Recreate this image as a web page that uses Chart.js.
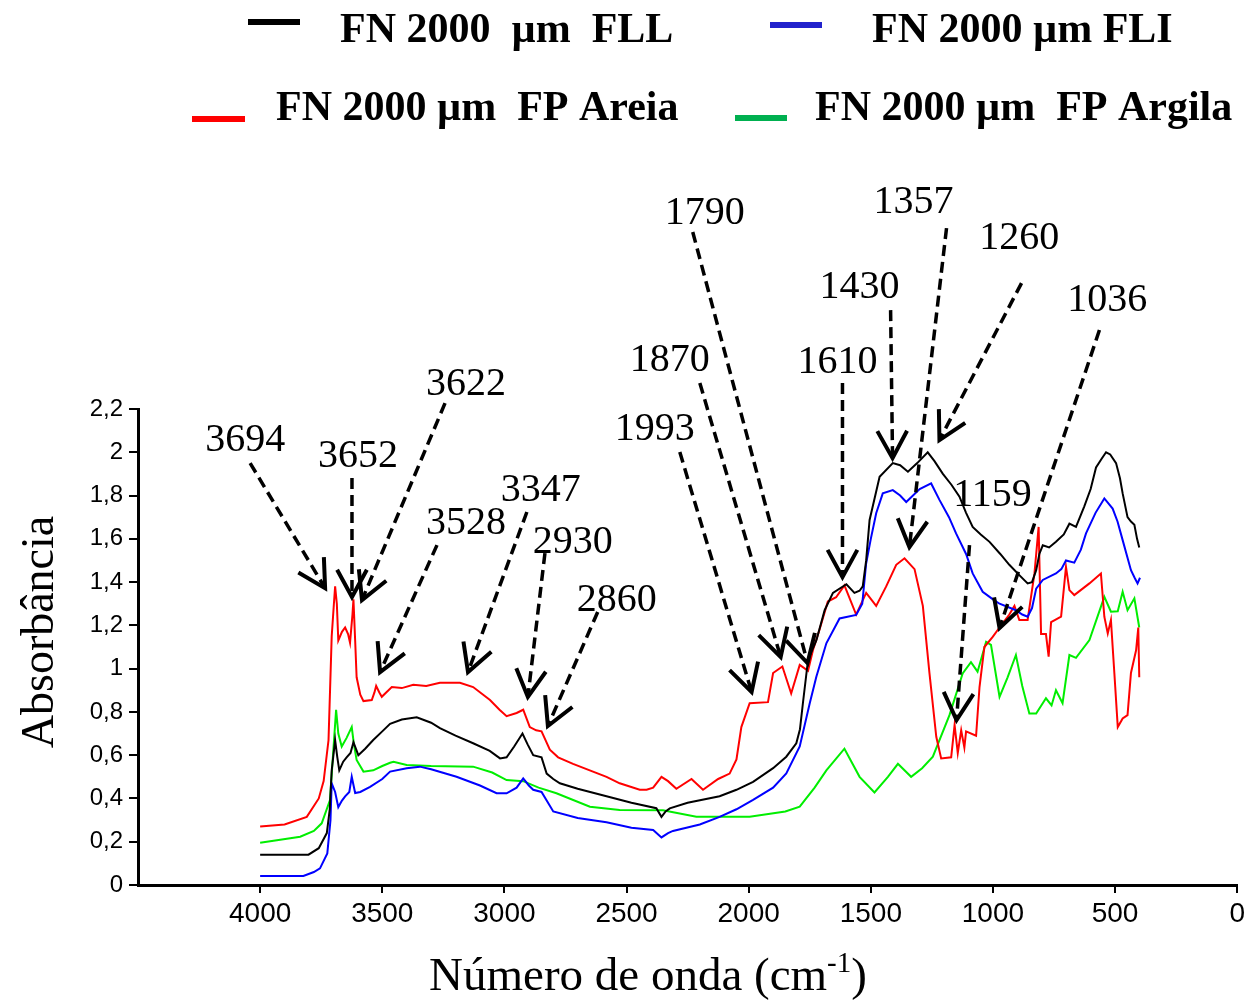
<!DOCTYPE html>
<html>
<head>
<meta charset="utf-8">
<script src="https://cdn.jsdelivr.net/npm/chart.js@4.4.1/dist/chart.umd.min.js"></script>
<style>
  html, body { margin: 0; padding: 0; background: #fff; }
  #wrap { width: 1249px; height: 1002px; position: relative; }
</style>
</head>
<body>
<div id="wrap"><canvas id="ftir"></canvas></div>
<script>
// ── Spectra: [wavenumber cm-1, absorbance] ─────────────────────────────────
const FLL = [
  [4000,0.14],[3850,0.14],[3802,0.14],[3760,0.17],[3727,0.24],[3715,0.35],[3707,0.53],[3693,0.67],
  [3684,0.59],[3676,0.53],[3660,0.57],[3646,0.59],[3630,0.61],[3618,0.66],[3598,0.60],[3570,0.63],
  [3537,0.67],[3500,0.71],[3468,0.745],[3420,0.765],[3359,0.775],[3300,0.75],[3264,0.725],[3200,0.69],
  [3128,0.655],[3060,0.62],[3018,0.585],[2991,0.59],[2960,0.64],[2926,0.70],[2905,0.65],[2882,0.60],
  [2848,0.59],[2827,0.515],[2800,0.49],[2773,0.47],[2700,0.445],[2582,0.41],[2480,0.38],[2378,0.355],
  [2357,0.315],[2340,0.34],[2323,0.354],[2250,0.38],[2119,0.41],[2050,0.44],[1982,0.477],[1900,0.54],
  [1846,0.593],[1805,0.655],[1790,0.72],[1778,0.84],[1757,1.04],[1723,1.13],[1689,1.27],[1655,1.35],
  [1600,1.39],[1567,1.35],[1546,1.36],[1533,1.38],[1519,1.50],[1505,1.687],[1464,1.887],[1410,1.95],
  [1380,1.94],[1348,1.91],[1310,1.95],[1267,2.00],[1240,1.96],[1205,1.90],[1170,1.85],[1137,1.795],
  [1110,1.72],[1083,1.655],[1050,1.62],[1014,1.586],[970,1.53],[933,1.48],[890,1.43],[858,1.394],
  [840,1.40],[823,1.455],[810,1.53],[796,1.57],[770,1.56],[742,1.586],[710,1.62],[687,1.67],
  [660,1.655],[626,1.75],[600,1.83],[578,1.93],[555,1.97],[537,2.00],[520,1.99],[496,1.95],
  [480,1.88],[469,1.81],[449,1.70],[435,1.68],[421,1.665],[410,1.60],[401,1.56]
];
const FLI = [
  [4000,0.042],[3823,0.042],[3780,0.06],[3755,0.077],[3725,0.146],[3712,0.30],[3707,0.47],[3693,0.43],
  [3680,0.36],[3665,0.39],[3652,0.41],[3635,0.43],[3625,0.50],[3611,0.425],[3590,0.43],[3550,0.454],
  [3500,0.49],[3468,0.524],[3400,0.54],[3346,0.547],[3300,0.535],[3196,0.50],[3100,0.46],[3032,0.424],
  [2991,0.424],[2950,0.45],[2923,0.493],[2900,0.46],[2882,0.44],[2848,0.43],[2800,0.34],[2700,0.31],
  [2582,0.29],[2480,0.265],[2391,0.254],[2357,0.22],[2330,0.24],[2310,0.25],[2200,0.28],[2119,0.315],
  [2050,0.35],[1982,0.393],[1900,0.45],[1846,0.516],[1791,0.64],[1750,0.84],[1723,0.963],[1682,1.117],
  [1628,1.232],[1560,1.248],[1535,1.30],[1519,1.487],[1500,1.60],[1478,1.718],[1451,1.81],[1410,1.825],
  [1380,1.80],[1355,1.77],[1300,1.83],[1253,1.856],[1219,1.78],[1180,1.70],[1151,1.625],[1110,1.53],
  [1083,1.44],[1042,1.355],[1000,1.32],[973,1.30],[906,1.27],[880,1.25],[858,1.24],[840,1.28],
  [823,1.37],[796,1.41],[742,1.44],[720,1.46],[701,1.50],[667,1.49],[640,1.55],[619,1.625],
  [580,1.72],[544,1.787],[510,1.74],[490,1.68],[469,1.594],[435,1.455],[420,1.42],[408,1.394],[398,1.42]
];
const FP_AREIA = [
  [4000,0.27],[3900,0.28],[3809,0.315],[3760,0.40],[3740,0.48],[3720,0.67],[3707,1.15],[3698,1.30],
  [3693,1.38],[3686,1.30],[3680,1.13],[3665,1.17],[3652,1.19],[3640,1.16],[3632,1.12],[3622,1.25],
  [3618,1.32],[3611,1.13],[3605,0.96],[3590,0.88],[3577,0.85],[3543,0.855],[3532,0.89],[3525,0.92],
  [3512,0.89],[3502,0.87],[3461,0.915],[3420,0.91],[3373,0.925],[3320,0.92],[3264,0.935],[3182,0.935],
  [3128,0.915],[3059,0.855],[3020,0.81],[2991,0.78],[2950,0.795],[2923,0.81],[2896,0.73],[2870,0.715],
  [2848,0.71],[2814,0.625],[2780,0.59],[2719,0.56],[2582,0.50],[2528,0.47],[2446,0.44],[2418,0.44],
  [2391,0.45],[2357,0.50],[2330,0.48],[2296,0.445],[2234,0.49],[2187,0.44],[2125,0.49],[2078,0.515],
  [2050,0.58],[2030,0.73],[1996,0.84],[1921,0.845],[1900,0.98],[1862,1.01],[1826,0.885],[1791,1.017],
  [1757,0.99],[1737,1.085],[1710,1.18],[1676,1.31],[1642,1.33],[1608,1.385],[1560,1.25],[1519,1.35],
  [1478,1.29],[1437,1.38],[1396,1.48],[1362,1.51],[1321,1.46],[1287,1.29],[1260,0.98],[1232,0.685],
  [1212,0.585],[1171,0.59],[1157,0.74],[1144,0.61],[1130,0.715],[1117,0.635],[1110,0.71],[1069,0.69],
  [1055,0.915],[1035,1.10],[1001,1.147],[973,1.19],[933,1.25],[912,1.29],[892,1.225],[858,1.225],
  [830,1.44],[813,1.655],[803,1.16],[783,1.16],[772,1.055],[762,1.215],[721,1.24],[701,1.47],
  [687,1.363],[667,1.34],[605,1.394],[558,1.44],[544,1.24],[530,1.163],[517,1.225],[503,0.98],
  [489,0.73],[469,0.77],[449,0.785],[435,0.98],[414,1.085],[405,1.19],[401,0.96]
];
const FP_ARGILA = [
  [4000,0.195],[3836,0.223],[3780,0.25],[3748,0.285],[3714,0.393],[3703,0.578],[3689,0.81],[3680,0.70],
  [3666,0.64],[3646,0.68],[3625,0.73],[3616,0.65],[3605,0.578],[3577,0.524],[3537,0.53],[3500,0.55],
  [3468,0.565],[3454,0.57],[3400,0.555],[3300,0.55],[3128,0.547],[3050,0.52],[2991,0.485],[2923,0.48],
  [2860,0.45],[2787,0.424],[2650,0.362],[2528,0.347],[2351,0.345],[2214,0.316],[1996,0.316],[1850,0.34],
  [1791,0.362],[1730,0.45],[1682,0.53],[1608,0.63],[1546,0.50],[1485,0.428],[1430,0.50],[1389,0.56],
  [1335,0.50],[1290,0.54],[1246,0.593],[1178,0.785],[1124,0.978],[1090,1.03],[1063,0.986],[1028,1.124],
  [1008,1.11],[973,0.87],[940,0.96],[906,1.063],[880,0.92],[851,0.793],[823,0.793],[783,0.863],
  [760,0.83],[742,0.90],[715,0.84],[687,1.063],[660,1.05],[605,1.132],[544,1.332],[517,1.263],
  [489,1.265],[469,1.355],[449,1.27],[421,1.325],[401,1.19]
];

const SERIES_LABELS = ['FN 2000  µm  FLL', 'FN 2000 µm FLI', 'FN 2000 µm  FP Areia', 'FN 2000 µm  FP Argila'];
const X_TICKS = [4000, 3500, 3000, 2500, 2000, 1500, 1000, 500, 0];
const Y_TICKS = [0, 0.2, 0.4, 0.6, 0.8, 1, 1.2, 1.4, 1.6, 1.8, 2, 2.2];

// peak annotations: label, label centre, dashed line start, arrow tip (wn, abs)
const PEAKS = ['3694','3652','3622','3528','3347','2930','2860','1993','1870','1790','1610','1430','1357','1260','1036','1159'];
const PEAK_TEXT = [[4061,2.056],[3599,1.982],[3157,2.311],[3157,1.673],[2851,1.825],[2720,1.585],[2540,1.317],[2384,2.103],
                   [2323,2.426],[2180,3.105],[1636,2.417],[1546,2.763],[1325,3.156],[892,2.99],[532,2.703],[1002,1.802]];
const PEAK_FROM = [[4041,1.95],[3624,1.881],[3243,2.227],[3276,1.571],[2908,1.724],[2834,1.534],[2618,1.262],[2282,2.001],
                   [2200,2.32],[2229,3.018],[1616,2.32],[1419,2.657],[1190,3.036],[883,2.782],[564,2.565],[1096,1.571]];
const PEAK_TIP  = [[3734,1.372],[3624,1.331],[3583,1.317],[3509,0.984],[3149,0.984],[2904,0.869],[2822,0.735],[1988,0.892],
                   [1869,1.054],[1759,1.026],[1616,1.423],[1411,1.973],[1342,1.562],[1219,2.056],[973,1.188],[1149,0.762]];

const LINE_COLORS   = ['#000000', '#0000ff', '#ff0000', '#00ee00'];
const LEGEND_COLORS = ['#000000', '#2222cc', '#ff0000', '#00b050'];

const SERIF = "'Liberation Serif', 'Times New Roman', serif";
const SANS  = "'Liberation Sans', Arial, sans-serif";

function fmtTick(v) {
  return String(Math.round(v * 10) / 10).replace('.', ',');
}

// ── Arrow helper: dashed shaft + open chevron head ─────────────────────────
function drawArrow(ctx, x1, y1, x2, y2) {
  ctx.lineWidth = 3.5;
  ctx.setLineDash([11, 6]);
  ctx.beginPath();
  ctx.moveTo(x1, y1);
  ctx.lineTo(x2, y2);
  ctx.stroke();
  ctx.setLineDash([]);
  const a = Math.atan2(y2 - y1, x2 - x1);
  const len = 31, spread = 0.5;
  ctx.lineWidth = 4;
  ctx.beginPath();
  ctx.moveTo(x2 - len * Math.cos(a - spread), y2 - len * Math.sin(a - spread));
  ctx.lineTo(x2, y2);
  ctx.lineTo(x2 - len * Math.cos(a + spread), y2 - len * Math.sin(a + spread));
  ctx.stroke();
}

// ── Decorations: peak arrows, 2x2 legend, axis titles ─────────────────────
const decorPlugin = {
  id: 'decor',
  afterDraw(chart) {
    const { ctx, scales: { x, y } } = chart;
    ctx.save();
    ctx.strokeStyle = '#000';
    ctx.fillStyle = '#000';
    ctx.lineCap = 'butt';
    ctx.lineJoin = 'miter';

    PEAKS.forEach((lbl, i) => {
      drawArrow(ctx,
        x.getPixelForValue(PEAK_FROM[i][0]), y.getPixelForValue(PEAK_FROM[i][1]),
        x.getPixelForValue(PEAK_TIP[i][0]),  y.getPixelForValue(PEAK_TIP[i][1]));
    });
    ctx.font = `40px ${SERIF}`;
    ctx.textAlign = 'center';
    ctx.textBaseline = 'middle';
    PEAKS.forEach((lbl, i) => {
      ctx.fillText(lbl, x.getPixelForValue(PEAK_TEXT[i][0]), y.getPixelForValue(PEAK_TEXT[i][1]));
    });

    // legend (two rows)
    const legendSlots = [
      { x0: 248, x1: 300, ly: 22,  tx: 340, ty: 42 },
      { x0: 770, x1: 822, ly: 25,  tx: 872, ty: 42 },
      { x0: 192, x1: 245, ly: 119, tx: 276, ty: 120 },
      { x0: 735, x1: 787, ly: 118, tx: 815, ty: 120 }
    ];
    ctx.font = `bold 42px ${SERIF}`;
    ctx.textAlign = 'left';
    ctx.textBaseline = 'alphabetic';
    chart.data.datasets.forEach((ds, i) => {
      const s = legendSlots[i];
      ctx.strokeStyle = LEGEND_COLORS[i];
      ctx.lineWidth = 6;
      ctx.beginPath();
      ctx.moveTo(s.x0, s.ly);
      ctx.lineTo(s.x1, s.ly);
      ctx.stroke();
      ctx.fillStyle = '#000';
      ctx.fillText(ds.label, s.tx, s.ty);
    });

    // y title
    ctx.save();
    ctx.translate(53, 632);
    ctx.rotate(-Math.PI / 2);
    ctx.font = `46px ${SERIF}`;
    ctx.textAlign = 'center';
    ctx.fillText('Absorbância', 0, 0);
    ctx.restore();

    // x title with superscript
    const main = 'Número de onda (cm', sup = '-1', tail = ')';
    ctx.font = `47px ${SERIF}`;
    const w1 = ctx.measureText(main).width, w3 = ctx.measureText(tail).width;
    ctx.font = `29px ${SERIF}`;
    const w2 = ctx.measureText(sup).width;
    let px = 648 - (w1 + w2 + w3) / 2;
    const base = 990;
    ctx.textAlign = 'left';
    ctx.font = `47px ${SERIF}`;
    ctx.fillText(main, px, base);
    px += w1;
    ctx.font = `29px ${SERIF}`;
    ctx.fillText(sup, px, base - 18);
    px += w2;
    ctx.font = `47px ${SERIF}`;
    ctx.fillText(tail, px, base);
    ctx.restore();
  }
};

const toPoints = arr => arr.map(([wn, a]) => ({ x: wn, y: a }));

new Chart(document.getElementById('ftir'), {
  type: 'line',
  data: {
    datasets: [FLL, FLI, FP_AREIA, FP_ARGILA].map((s, i) => ({
      label: SERIES_LABELS[i],
      data: toPoints(s),
      borderColor: LINE_COLORS[i],
      borderWidth: 2,
      pointRadius: 0,
      tension: 0,
      fill: false
    }))
  },
  options: {
    animation: false,
    responsive: true,
    maintainAspectRatio: false,
    layout: { padding: { top: 409, right: 11, left: 0, bottom: 0 } },
    plugins: { legend: { display: false }, tooltip: { enabled: false } },
    scales: {
      x: {
        type: 'linear',
        reverse: true,
        min: 0,
        max: 4500,
        afterBuildTicks: axis => { axis.ticks = X_TICKS.map(v => ({ value: v })); },
        afterFit: axis => { axis.height = 117; },
        border: { display: true, color: '#000', width: 3 },
        grid: { drawOnChartArea: false, drawTicks: true, tickLength: 8, color: '#000', lineWidth: 2 },
        ticks: { color: '#000', font: { family: SANS, size: 28 }, padding: 4, maxRotation: 0, autoSkip: false,
                 callback: v => String(v) }
      },
      y: {
        min: 0,
        max: 2.2,
        afterBuildTicks: axis => { axis.ticks = Y_TICKS.map(v => ({ value: v })); },
        afterFit: axis => { axis.width = 138; },
        border: { display: true, color: '#000', width: 3 },
        grid: { drawOnChartArea: false, drawTicks: true, tickLength: 9, color: '#000', lineWidth: 2 },
        ticks: { color: '#000', font: { family: SANS, size: 24 }, padding: 6, callback: v => fmtTick(v) }
      }
    }
  },
  plugins: [decorPlugin]
});
</script>
</body>
</html>
